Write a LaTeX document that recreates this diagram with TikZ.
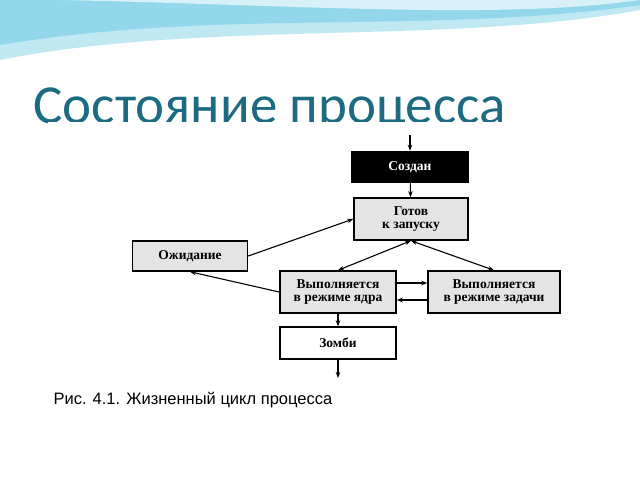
\documentclass[tikz,border=0pt]{standalone}
\usepackage{fontspec}
\setmainfont{Liberation Serif}
\newfontfamily\titlefont{Carlito}
\newfontfamily\capfont{Liberation Sans}
\usetikzlibrary{arrows.meta}
\definecolor{titleblue}{HTML}{1C6B82}
\definecolor{wave}{HTML}{7FD0E6}
\definecolor{boxgray}{HTML}{E4E4E4}
\begin{document}
\begin{tikzpicture}[x=1pt,y=-1pt,
  box/.style={draw,line width=1.5pt,fill=boxgray,align=center,font=\bfseries\fontsize{13.5}{13}\selectfont,inner sep=0pt},
  link/.style={-{Stealth[length=6pt]},line width=1.1pt},
  both/.style={{Stealth[length=6pt]}-{Stealth[length=6pt]},line width=1.1pt}]
\useasboundingbox (0,0) rectangle (640,480);
\fill[white] (0,0) rectangle (640,480);
% waves on top
\fill[wave!50] (0,0) -- (640,0) -- (640,10) .. controls (450,45) and (200,20) .. (0,60) -- cycle;
\fill[wave!85] (0,0) -- (640,0) -- (640,5) .. controls (430,35) and (220,8) .. (0,45) -- cycle;
\fill[wave!30] (60,0) -- (640,0) .. controls (500,20) and (300,5) .. (60,0);
\node[anchor=west,text=titleblue,font=\titlefont\fontsize{55}{55}\selectfont] (title) at (30,110) {Состояние процесса};
\fill[white] (48,122) rectangle (580,415);
% states
\node[box,fill=black,text=white,minimum width=116,minimum height=31] (created) at (410,167) {Создан};
\node[box,minimum width=114,minimum height=42] (ready) at (411,219) {Готов\\к запуску};
\node[box,minimum width=115,minimum height=30] (wait) at (190,256) {Ожидание};
\node[box,minimum width=116,minimum height=42] (kernel) at (338,292) {Выполняется\\в режиме ядра};
\node[box,minimum width=132,minimum height=42] (user) at (494,292) {Выполняется\\в режиме задачи};
\node[box,fill=white,minimum width=116,minimum height=32] (zombie) at (338,343) {Зомби};
\coordinate (in) at (410,135);
\coordinate (out) at (338,378);
% transitions
\draw[link] (in) -- (created);
\draw[link] (created) -- (ready);
\draw[link] (wait.east) -- (ready.west);
\draw[both] (ready.south) -- (kernel.north);
\draw[both] (ready.south) -- (user.north);
\draw[link] ([yshift=9]kernel.east) -- ([yshift=9]user.west);
\draw[link] ([yshift=-8]user.west) -- ([yshift=-8]kernel.east);
\draw[link] (kernel.west) -- (wait.south);
\draw[link] (kernel) -- (zombie);
\draw[link] (zombie) -- (out);
\node[anchor=west,font=\capfont\fontsize{16.5}{16}\selectfont] (caption) at (50,400) {Рис. 4.1. Жизненный цикл процесса};
\end{tikzpicture}
\end{document}
